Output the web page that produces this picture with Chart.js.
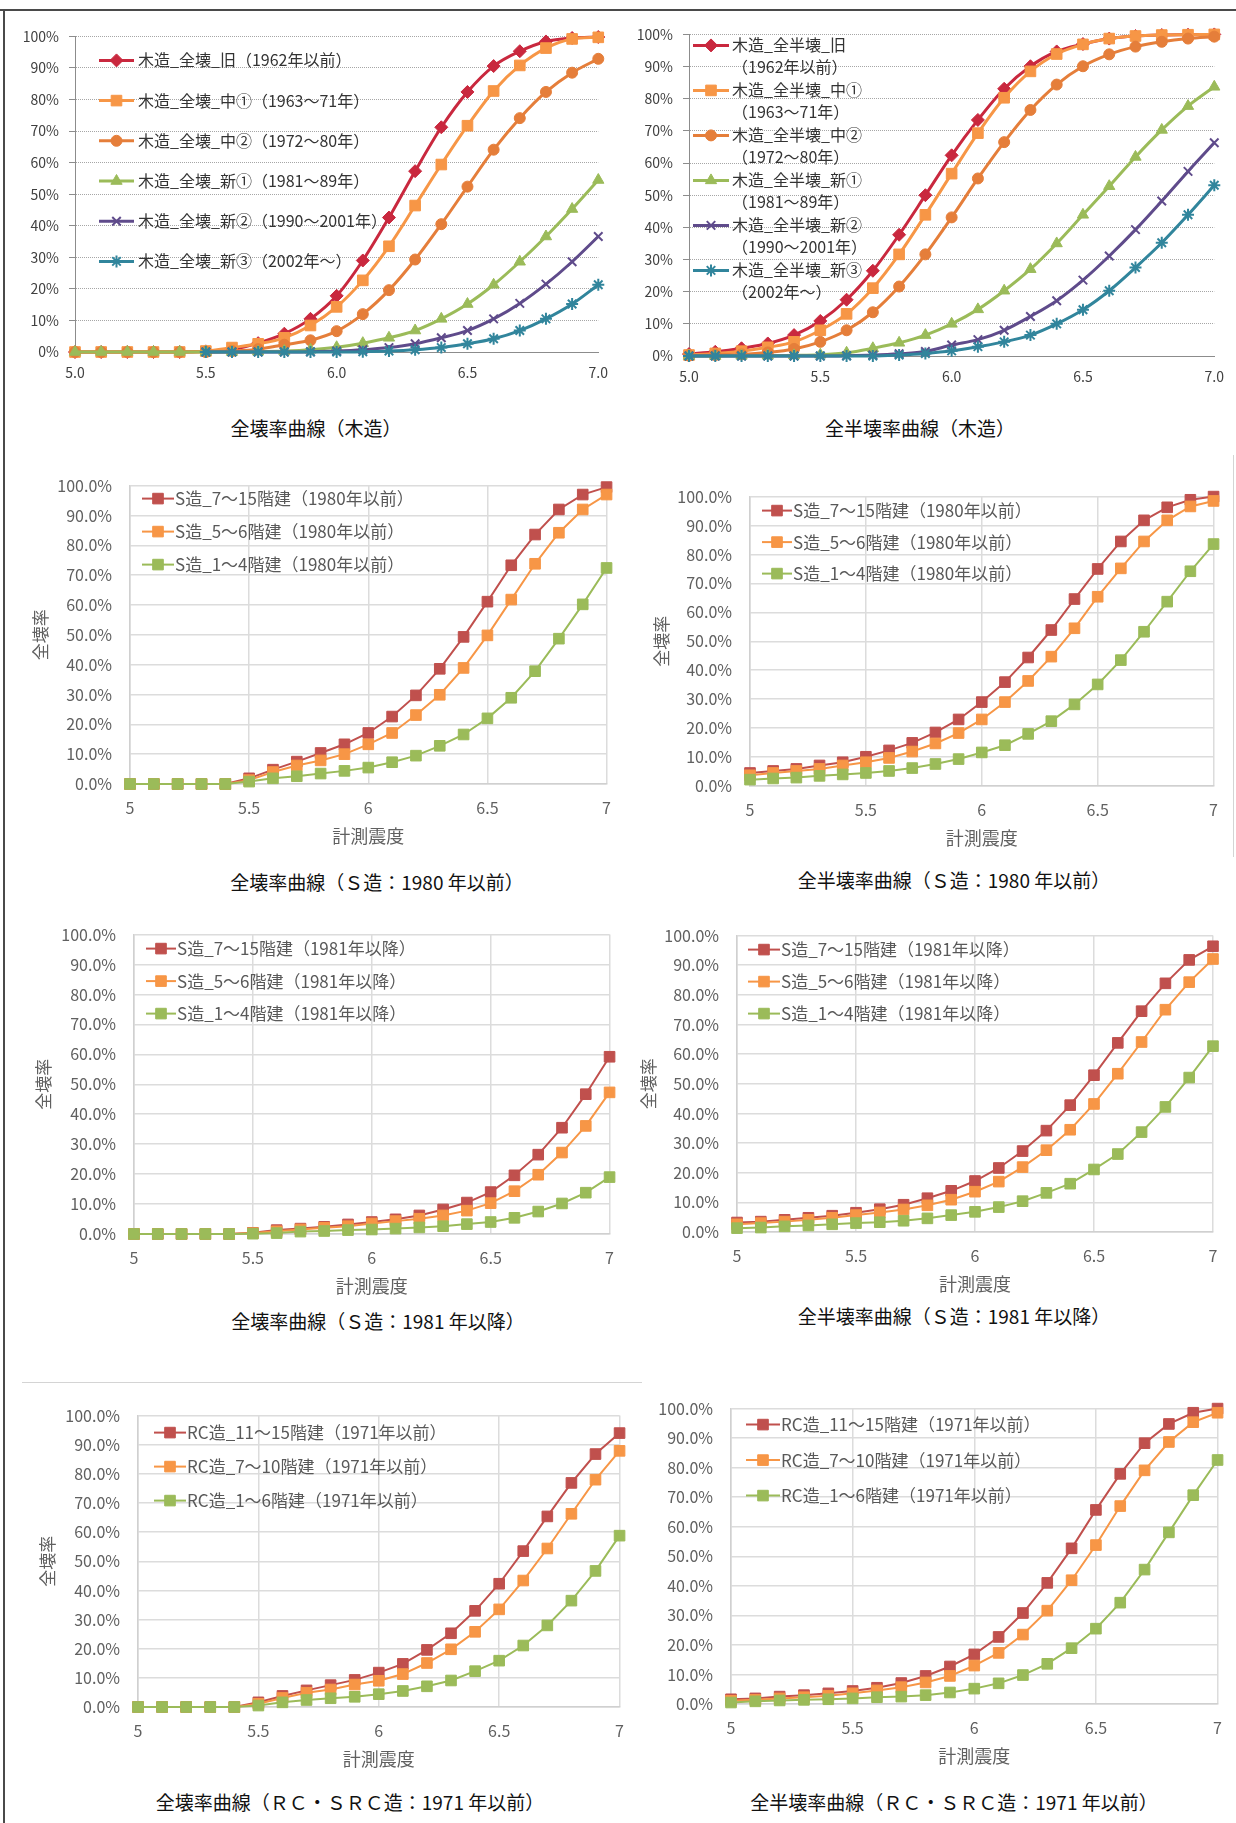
<!DOCTYPE html>
<html lang="ja">
<head>
<meta charset="utf-8">
<title>全壊率曲線・全半壊率曲線</title>
<script src="https://cdn.jsdelivr.net/npm/chart.js@4.4.1/dist/chart.umd.min.js"></script>
<style>
  html, body { margin: 0; padding: 0; background: #fff; }
  #page { position: relative; width: 1236px; height: 1823px; overflow: hidden; font-family: "Noto Sans CJK JP", sans-serif; }
  #page canvas { position: absolute; }
  .cap { position: absolute; width: 640px; text-align: center; font-size: 19px; line-height: 24px; color: #111; white-space: nowrap; }
  .rule { position: absolute; }
</style>
</head>
<body>
<div id="page">
  <div class="rule" style="left:0;top:9px;width:1236px;height:2px;background:#4a4a4a"></div>
  <div class="rule" style="left:3px;top:9px;width:2px;height:1814px;background:#4a4a4a"></div>
  <div class="rule" style="left:22px;top:1382px;width:620px;height:1px;background:#d4d4d4"></div>
  <div class="rule" style="left:1233px;top:455px;width:1px;height:402px;background:#d4d4d4"></div>
</div>
<script>
// 計測震度 5.0〜7.0（0.1刻み）
const intensity = [5.0, 5.1, 5.2, 5.3, 5.4, 5.5, 5.6, 5.7, 5.8, 5.9, 6.0, 6.1, 6.2, 6.3, 6.4, 6.5, 6.6, 6.7, 6.8, 6.9, 7.0]

// 全壊率曲線（木造）  単位 %
const woodTotalLabels = ["木造_全壊_旧（1962年以前）", "木造_全壊_中①（1963～71年）", "木造_全壊_中②（1972～80年）",
  "木造_全壊_新①（1981～89年）", "木造_全壊_新②（1990～2001年）", "木造_全壊_新③（2002年～）"]
const woodTotalOld = [0, 0, 0, 0, 0, 0.2, 0.8, 2.8, 5.8, 10.5, 17.8, 29, 42.6, 57.3, 71.2, 82.4, 90.6, 95.3, 98.4, 99.5, 99.8]
const woodTotalMid1 = [0, 0, 0, 0, 0, 0.3, 1.4, 2.6, 4.5, 8.4, 14.3, 22.7, 33.5, 46.4, 59.4, 71.7, 82.7, 90.8, 96.3, 99.2, 99.7]
const woodTotalMid2 = [0, 0, 0, 0, 0, 0, 0.3, 0.9, 2.3, 3.7, 6.6, 12, 19.6, 29.3, 40.5, 52.4, 64.1, 74.1, 82.4, 88.5, 92.9]
const woodTotalNew1 = [0, 0, 0, 0, 0, 0, 0, 0.1, 0.3, 0.7, 1.5, 2.8, 4.5, 6.8, 10.5, 15.2, 21.3, 28.6, 36.6, 45.3, 54.5]
const woodTotalNew2 = [null, null, null, null, null, 0, 0, 0, 0, 0.1, 0.3, 0.7, 1.4, 2.6, 4.5, 6.8, 10.5, 15.4, 21.5, 28.6, 36.6]
const woodTotalNew3 = [null, null, null, null, null, 0, 0, 0, 0, 0, 0, 0.1, 0.3, 0.7, 1.4, 2.6, 4.2, 6.8, 10.5, 15.2, 21.3]

// 全半壊率曲線（木造）
const woodHalfLabels = ["木造_全半壊_旧\n（1962年以前）", "木造_全半壊_中①\n（1963～71年）", "木造_全半壊_中②\n（1972～80年）",
  "木造_全半壊_新①\n（1981～89年）", "木造_全半壊_新②\n（1990～2001年）", "木造_全半壊_新③\n（2002年～）"]
const woodHalfOld = [0.6, 1.3, 2.4, 3.9, 6.5, 10.9, 17.5, 26.5, 37.7, 50, 62.4, 73.4, 83.1, 90.1, 94.7, 97, 98.7, 99.5, 99.8, 99.9, 100]
const woodHalfMid1 = [0.3, 0.8, 1.5, 2.7, 4.4, 8, 13.1, 21.1, 31.6, 43.9, 56.7, 69.3, 80.3, 88.5, 93.9, 96.9, 98.7, 99.5, 99.8, 99.9, 100]
const woodHalfMid2 = [0.1, 0.3, 0.5, 1.1, 2.2, 4.4, 8, 13.6, 21.6, 31.6, 43.1, 55.2, 66.5, 76.5, 84.4, 90.1, 93.8, 96.2, 97.7, 98.7, 99.3]
const woodHalfNew1 = [0, 0, 0.1, 0.1, 0.2, 0.4, 1, 2.4, 4.1, 6.5, 10, 14.5, 20.3, 27, 35, 43.9, 52.8, 61.9, 70.3, 77.7, 83.7]
const woodHalfNew2 = [0, 0, 0, 0, 0, 0, 0.1, 0.3, 0.7, 1.4, 3.4, 5.1, 8, 12.3, 17.2, 23.6, 31.1, 39.3, 48.2, 57.4, 66.3]
const woodHalfNew3 = [0, 0, 0, 0, 0, 0, 0, 0, 0.3, 0.8, 1.6, 2.9, 4.4, 6.5, 10, 14.4, 20.3, 27.5, 35.2, 43.9, 53.1]

// S造：1980年以前
const steelOldLabels = ["S造_7～15階建（1980年以前）", "S造_5～6階建（1980年以前）", "S造_1～4階建（1980年以前）"]
const steelOldTotal715 = [0, 0, 0, 0, 0, 1.9, 4.8, 7.5, 10.4, 13.3, 17.1, 22.6, 29.7, 38.6, 49.3, 61.1, 73.3, 83.6, 92, 97, 99.5]
const steelOldTotal56 = [0, 0, 0, 0, 0, 1.3, 4, 6.2, 7.9, 10, 13.3, 17.1, 23.1, 29.9, 38.9, 49.8, 61.8, 73.8, 84.2, 92, 97]
const steelOldTotal14 = [0, 0, 0, 0, 0, 0.8, 1.9, 2.6, 3.5, 4.4, 5.5, 7.3, 9.5, 12.8, 16.6, 22, 28.9, 37.8, 48.7, 60.2, 72.4]
const steelOldHalf715 = [4.5, 5.2, 5.9, 7.1, 8.2, 10.1, 12.3, 14.9, 18.5, 23, 29, 35.9, 44.4, 53.9, 64.6, 75, 84.5, 91.8, 96.3, 98.9, 100]
const steelOldHalf56 = [3.7, 4.5, 5.2, 5.9, 7.1, 8.2, 9.7, 11.9, 14.7, 18.3, 23, 29, 36.3, 44.7, 54.5, 65.4, 75.2, 84.5, 91.8, 96.6, 98.5]
const steelOldHalf14 = [2.2, 2.6, 2.9, 3.5, 4, 4.5, 5.2, 6.2, 7.6, 9.3, 11.6, 14.1, 18, 22.4, 28.2, 35.1, 43.5, 53.3, 63.7, 74.2, 83.6]

// S造：1981年以降
const steelNewLabels = ["S造_7～15階建（1981年以降）", "S造_5～6階建（1981年以降）", "S造_1～4階建（1981年以降）"]
const steelNewTotal715 = [0, 0, 0, 0, 0, 0.4, 1.3, 1.8, 2.4, 3.2, 4, 4.9, 6.2, 8.2, 10.5, 14, 19.6, 26.5, 35.5, 46.7, 59.2]
const steelNewTotal56 = [0, 0, 0, 0, 0, 0.3, 0.9, 1.5, 2.1, 2.6, 3.5, 4.3, 5.1, 6.2, 7.8, 10.3, 14.3, 19.8, 27.2, 36.1, 47.3]
const steelNewTotal14 = [0, 0, 0, 0, 0, 0.1, 0.3, 0.8, 1, 1.3, 1.5, 1.8, 2.2, 2.6, 3.3, 4, 5.4, 7.5, 10.2, 13.8, 19]
const steelNewHalf715 = [3.2, 3.5, 4.1, 4.8, 5.5, 6.5, 7.7, 9.2, 11.4, 13.9, 17.2, 21.6, 27.3, 34.2, 42.8, 52.9, 63.8, 74.5, 83.9, 91.8, 96.4]
const steelNewHalf56 = [2.6, 3, 3.5, 4.1, 4.8, 5.7, 6.6, 7.6, 9, 10.9, 13.6, 17, 21.9, 27.6, 34.5, 43.2, 53.4, 64.1, 75, 84.3, 92.1]
const steelNewHalf14 = [1.3, 1.5, 1.9, 2.2, 2.6, 3, 3.3, 3.8, 4.6, 5.7, 6.8, 8.4, 10.4, 13.2, 16.3, 21.1, 26.3, 33.7, 42.2, 52.1, 62.7]

// RC・SRC造：1971年以前
const rcLabels = ["RC造_11～15階建（1971年以前）", "RC造_7～10階建（1971年以前）", "RC造_1～6階建（1971年以前）"]
const rcTotal1115 = [0, 0, 0, 0, 0, 1.6, 3.8, 5.7, 7.5, 9.3, 11.8, 14.8, 19.6, 25.3, 33, 42.3, 53.5, 65.4, 76.9, 86.8, 94]
const rcTotal710 = [0, 0, 0, 0, 0, 1.1, 3.1, 4.9, 6, 7.7, 9, 11.3, 15.1, 19.8, 25.8, 33.5, 43.4, 54.4, 66.3, 78, 87.9]
const rcTotal16 = [0, 0, 0, 0, 0, 0.5, 1.6, 2.4, 3, 3.5, 4.4, 5.5, 7.1, 9.1, 12.3, 15.9, 21.1, 28, 36.5, 46.7, 58.8]
const rcHalf1115 = [1.6, 1.9, 2.5, 3, 3.6, 4.4, 5.5, 7.1, 9.5, 12.7, 16.8, 22.7, 30.8, 41, 52.7, 65.7, 77.9, 88.3, 94.8, 98.6, 100]
const rcHalf710 = [1.1, 1.4, 1.9, 2.3, 2.8, 3.6, 4.6, 5.7, 7.3, 9.5, 13, 17.3, 23.5, 31.6, 41.9, 53.8, 67, 79.1, 88.7, 95.4, 98.6]
const rcHalf16 = [0.5, 0.9, 1.2, 1.4, 1.6, 1.9, 2.3, 2.5, 3, 3.9, 5.2, 7, 9.8, 13.6, 18.9, 25.5, 34.3, 45.5, 58.1, 70.7, 82.6]

const FONT = '"Noto Sans CJK JP", "Noto Sans", sans-serif'
Chart.defaults.font.family = FONT

const woodStyles = [
  { color: "#c9283e", point: "rectRot", r: 6.5, bw: 1 },
  { color: "#f79646", point: "rect", r: 7.5, bw: 1 },
  { color: "#e57e3a", point: "circle", r: 5.5, bw: 1 },
  { color: "#9bbb59", point: "triangle", r: 6.5, bw: 1 },
  { color: "#5f4b8b", point: "crossRot", r: 6, bw: 2 },
  { color: "#31859c", point: "star", r: 6, bw: 2 }
]
const boxStyles = [
  { color: "#c0504d", point: "rect", r: 7.5, bw: 1 },
  { color: "#f79646", point: "rect", r: 7.5, bw: 1 },
  { color: "#9bbb59", point: "rect", r: 7.5, bw: 1 }
]

// legend drawn inside the plot area, like the Excel originals
const insideLegend = {
  id: "insideLegend",
  afterDatasetsDraw(chart, args, o) {
    const { ctx, chartArea } = chart
    ctx.save()
    ctx.font = o.size + "px " + FONT
    ctx.textBaseline = "middle"
    chart.data.datasets.forEach((ds, i) => {
      const x = chartArea.left + o.x
      const y = chartArea.top + o.y + i * o.step
      ctx.strokeStyle = ds.borderColor
      ctx.lineWidth = ds.borderWidth
      ctx.beginPath()
      ctx.moveTo(x, y)
      ctx.lineTo(x + o.len, y)
      ctx.stroke()
      ctx.fillStyle = ds.pointBackgroundColor
      ctx.strokeStyle = ds.pointBorderColor
      ctx.lineWidth = ds.pointBorderWidth
      Chart.helpers.drawPoint(ctx, { pointStyle: ds.pointStyle, radius: ds.pointRadius, rotation: 0, borderWidth: ds.pointBorderWidth }, x + o.len / 2, y)
      ctx.fillStyle = o.color
      ds.label.split("\n").forEach((line, k) => ctx.fillText(line, x + o.len + o.gap, y + k * o.lineStep))
    })
    ctx.restore()
  }
}

const panels = [
  { wood: true, series: [woodTotalOld, woodTotalMid1, woodTotalMid2, woodTotalNew1, woodTotalNew2, woodTotalNew3], labels: woodTotalLabels,
    left: 10, top: 18, right: 620, plot: [75, 33, 607, 352], xH: 32,
    legend: { x: 24, y: 24, step: 40.2, len: 35, gap: 4, lineStep: 0, size: 16, color: "#333" } },
  { wood: true, series: [woodHalfOld, woodHalfMid1, woodHalfMid2, woodHalfNew1, woodHalfNew2, woodHalfNew3], labels: woodHalfLabels,
    left: 628, top: 16, right: 1236, plot: [689, 31, 1225, 356], xH: 32,
    legend: { x: 4, y: 11, step: 45, len: 36, gap: 3, lineStep: 21.5, size: 16, color: "#333" } },
  { series: [steelOldTotal715, steelOldTotal56, steelOldTotal14], labels: steelOldLabels, yTitle: true,
    left: 30, top: 458, right: 625, plot: [130, 478, 609, 784], xH: 64,
    legend: { x: 12, y: 13, step: 33, len: 32, gap: 1, lineStep: 0, size: 17, color: "#595959" } },
  { series: [steelOldHalf715, steelOldHalf56, steelOldHalf14], labels: steelOldLabels, yTitle: true,
    left: 651, top: 469, right: 1232, plot: [750, 489, 1214, 786], xH: 64,
    legend: { x: 12, y: 14, step: 31.5, len: 30, gap: 1, lineStep: 0, size: 17, color: "#595959" } },
  { series: [steelNewTotal715, steelNewTotal56, steelNewTotal14], labels: steelNewLabels, yTitle: true,
    left: 33, top: 907, right: 628, plot: [134, 927, 613, 1234], xH: 64,
    legend: { x: 12, y: 14, step: 32.5, len: 30, gap: 1, lineStep: 0, size: 17, color: "#595959" } },
  { series: [steelNewHalf715, steelNewHalf56, steelNewHalf14], labels: steelNewLabels, yTitle: true,
    left: 638, top: 908, right: 1236, plot: [737, 928, 1213, 1232], xH: 64,
    legend: { x: 11, y: 14, step: 32, len: 32, gap: 1, lineStep: 0, size: 17, color: "#595959" } },
  { series: [rcTotal1115, rcTotal710, rcTotal16], labels: rcLabels, yTitle: true,
    left: 37, top: 1388, right: 638, plot: [138, 1403, 623, 1707], xH: 64,
    legend: { x: 16, y: 17, step: 34, len: 32, gap: 1, lineStep: 0, size: 17, color: "#595959" } },
  { series: [rcHalf1115, rcHalf710, rcHalf16], labels: rcLabels, yTitle: false,
    left: 640, top: 1381, right: 1236, plot: [731, 1396, 1221, 1704], xH: 66,
    legend: { x: 15, y: 16, step: 35.5, len: 34, gap: 1, lineStep: 0, size: 17, color: "#595959" } }
]

const captions = [
  ["全壊率曲線（木造）", 316, 428],
  ["全半壊率曲線（木造）", 920, 428],
  ["全壊率曲線（Ｓ造：1980 年以前）", 377, 882],
  ["全半壊率曲線（Ｓ造：1980 年以前）", 954, 880],
  ["全壊率曲線（Ｓ造：1981 年以降）", 378, 1321],
  ["全半壊率曲線（Ｓ造：1981 年以降）", 954, 1316],
  ["全壊率曲線（ＲＣ・ＳＲＣ造：1971 年以前）", 350, 1802],
  ["全半壊率曲線（ＲＣ・ＳＲＣ造：1971 年以前）", 954, 1802]
]

const $page = document.querySelector("#page")

const woodScales = (p) => ({
  x: {
    type: "linear", min: 5, max: 7,
    afterFit: (s) => { s.height = p.xH },
    grid: { display: false, drawTicks: false },
    border: { display: true, color: "#8c8c8c", width: 1 },
    ticks: { stepSize: 0.5, padding: 12, color: "#404040", font: { size: 14 }, maxRotation: 0, autoSkip: false,
      callback: (v) => Number(v).toFixed(1) }
  },
  y: {
    min: 0, max: 100,
    afterFit: (s) => { s.width = p.plot[0] - p.left },
    grid: { color: "#a6a6a6", lineWidth: 1, drawTicks: true, tickLength: 6, tickColor: "#8c8c8c" },
    border: { display: true, color: "#8c8c8c", width: 1, dash: [1, 1] },
    ticks: { stepSize: 10, padding: 10, color: "#404040", font: { size: 14 }, callback: (v) => v + "%" }
  }
})

const boxScales = (p) => ({
  x: {
    type: "linear", min: 5, max: 7,
    afterFit: (s) => { s.height = p.xH },
    grid: { color: "#dcdcdc", lineWidth: 1.5, drawTicks: false },
    border: { display: true, color: "#d0d0d0", width: 1.5 },
    ticks: { stepSize: 0.5, padding: 14, color: "#606060", font: { size: 16 }, maxRotation: 0, autoSkip: false,
      callback: (v) => String(Number(v)) },
    title: { display: true, text: "計測震度", color: "#606060", font: { size: 18 }, padding: { top: 0, bottom: p.xH - 63 } }
  },
  y: {
    min: 0, max: 100,
    afterFit: (s) => { s.width = p.plot[0] - p.left },
    grid: { color: "#dcdcdc", lineWidth: 1.5, drawTicks: false },
    border: { display: true, color: "#d0d0d0", width: 1.5 },
    ticks: { stepSize: 10, padding: 18, color: "#606060", font: { size: 16 }, callback: (v) => v.toFixed(1) + "%" },
    title: { display: !!p.yTitle, text: "全壊率", color: "#606060", font: { size: 17 }, padding: { top: 0, bottom: 0 } }
  }
})

const renderPanel = (p) => {
  const [pl, pt, pr, pb] = p.plot
  const w = p.right - p.left
  const h = pb + p.xH - p.top
  const $canvas = document.createElement("canvas")
  $canvas.width = w
  $canvas.height = h
  $canvas.style.left = p.left + "px"
  $canvas.style.top = p.top + "px"
  $canvas.style.width = w + "px"
  $canvas.style.height = h + "px"
  $page.appendChild($canvas)

  const styles = p.wood ? woodStyles : boxStyles
  const n = p.series.length
  const datasets = p.series.map((data, i) => ({
    label: p.labels[i],
    data: data,
    borderColor: styles[i].color,
    backgroundColor: styles[i].color,
    borderWidth: p.wood ? 3 : 2,
    pointStyle: styles[i].point,
    pointRadius: styles[i].r,
    pointHoverRadius: styles[i].r,
    pointBackgroundColor: styles[i].color,
    pointBorderColor: styles[i].color,
    pointBorderWidth: styles[i].bw,
    cubicInterpolationMode: p.wood ? "monotone" : "default",
    tension: 0,
    clip: false,
    order: n - i
  }))

  new Chart($canvas, {
    type: "line",
    data: { labels: intensity, datasets: datasets },
    options: {
      responsive: false,
      animation: false,
      events: [],
      layout: { padding: { top: pt - p.top, right: p.right - pr, bottom: 0, left: 0 } },
      scales: p.wood ? woodScales(p) : boxScales(p),
      plugins: {
        legend: { display: false },
        tooltip: { enabled: false },
        insideLegend: p.legend
      }
    },
    plugins: [insideLegend]
  })
}

panels.forEach(renderPanel)

captions.forEach(([text, cx, cy]) => {
  const $d = document.createElement("div")
  $d.className = "cap"
  $d.textContent = text
  $d.style.left = (cx - 320) + "px"
  $d.style.top = (cy - 12) + "px"
  $page.appendChild($d)
})
</script>
</body>
</html>
